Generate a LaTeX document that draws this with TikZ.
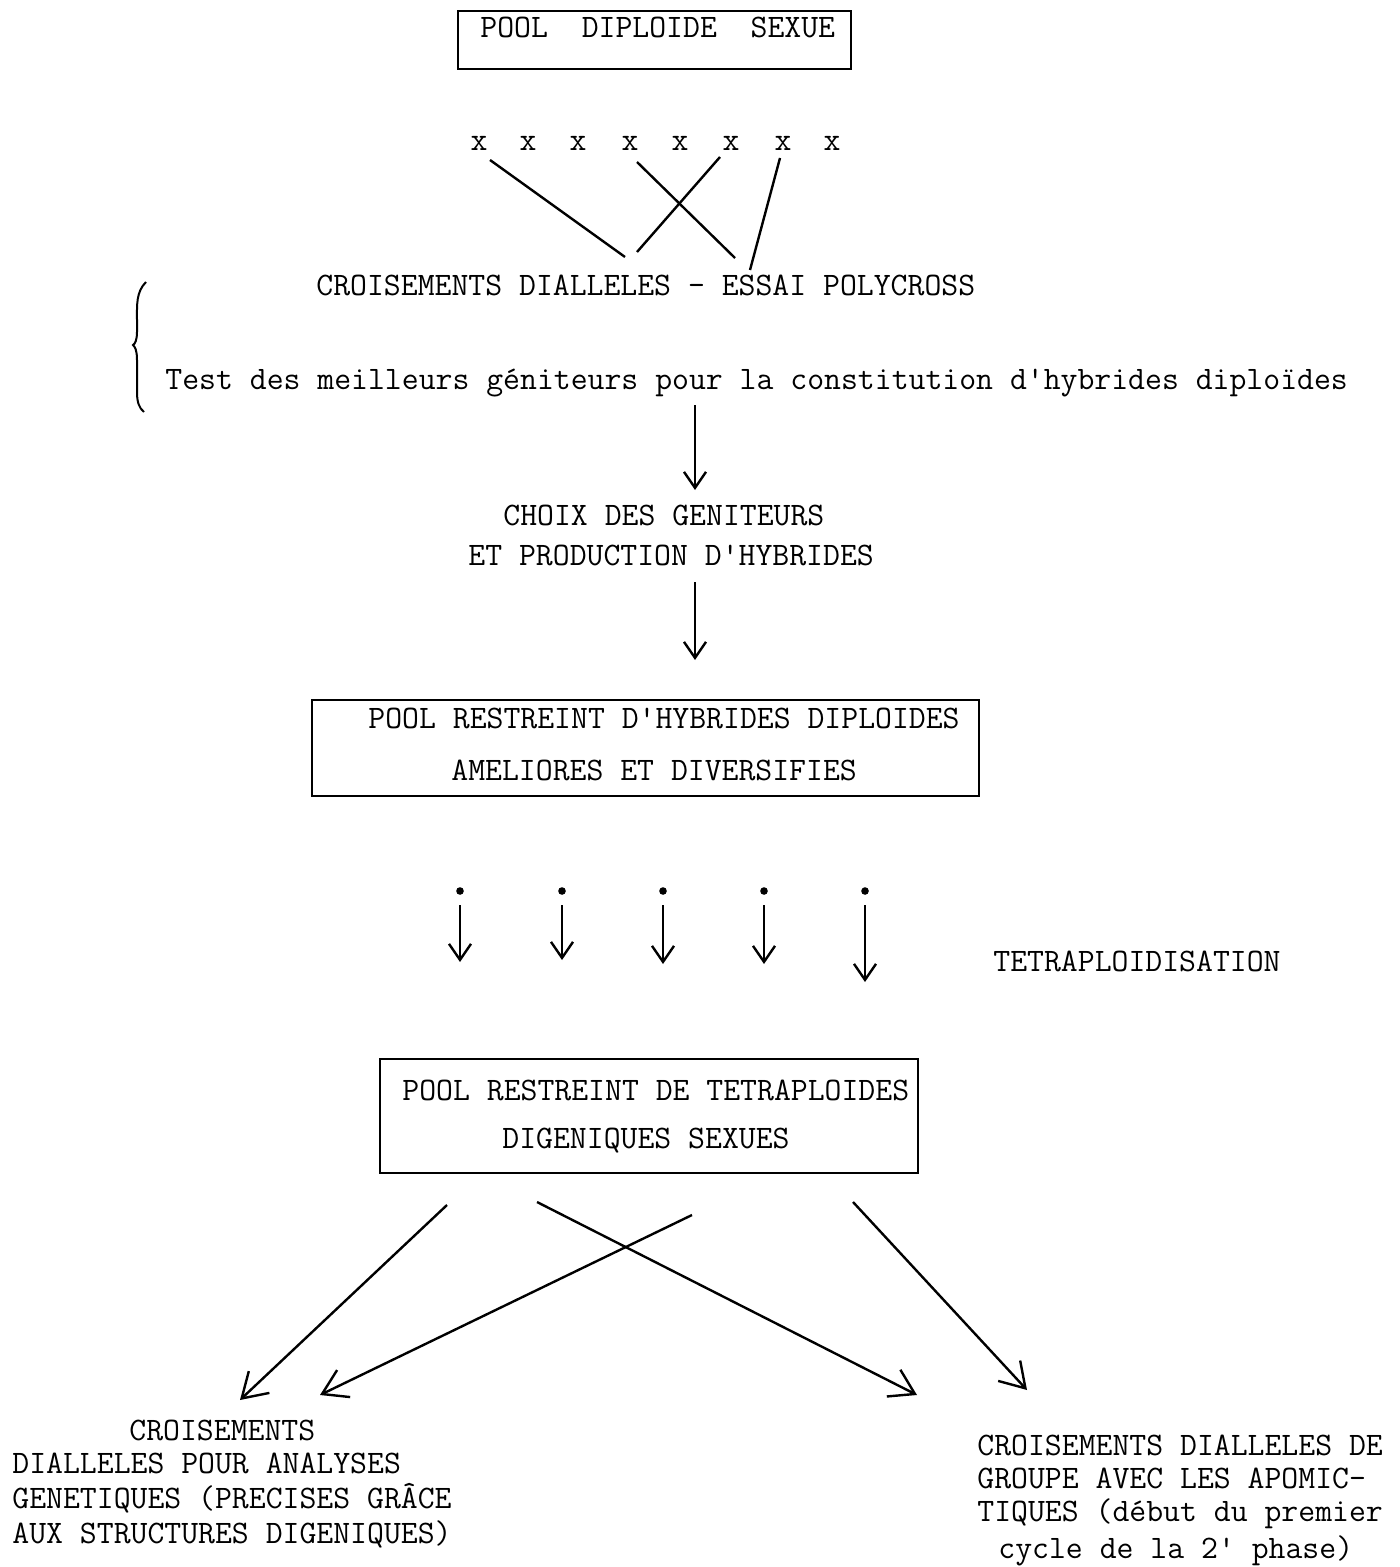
\documentclass[tikz,border=0pt]{standalone}
\usepackage{fontspec}
\setmonofont{Latin Modern Mono}
\usetikzlibrary{arrows.meta}
\begin{document}
\begin{tikzpicture}[x=0.5pt,y=-0.5pt,
  txt/.style={anchor=base west,inner sep=0pt,font=\ttfamily\fontsize{16.4}{19}\selectfont},
  cx/.style={anchor=base,inner sep=0pt,font=\ttfamily\fontsize{16.4}{19}\selectfont},
  frame/.style={draw,line width=1.1pt,inner sep=0pt,anchor=north west},
  ln/.style={line width=1.2pt},
  arr/.style={line width=1.2pt,-{Straight Barb[length=8pt,width=11pt,line width=1.2pt]}},
  barr/.style={line width=1.2pt,-{Straight Barb[length=12pt,width=15pt,line width=1.2pt]}},
  dot/.style={circle,fill,inner sep=0pt,minimum size=3.8pt}]
\useasboundingbox[fill=white] (0,0) rectangle (1399,1567);

% top box
\node[frame,minimum width=196.5pt,minimum height=29pt] (b1) at (457,10) {};
\node[txt] (t1) at (480,38) {POOL\ \ DIPLOIDE\ \ SEXUE};

% crosses
\foreach \i/\xx in {1/479,2/528,3/578,4/630,5/680,6/731,7/783,8/832}
  \node[cx] (x\i) at (\xx,151) {x};

\node[txt] (t2) at (316,296) {CROISEMENTS DIALLELES - ESSAI POLYCROSS};
\coordinate (c1a) at (490,160);
\coordinate (c1b) at (625,257);
\coordinate (c2a) at (720,157);
\coordinate (c2b) at (637,252);
\coordinate (c3a) at (637,162);
\coordinate (c3b) at (735,258);
\coordinate (c4a) at (780,158);
\coordinate (c4b) at (750,270);
\draw[ln] (c1a) -- (c1b);
\draw[ln] (c2a) -- (c2b);
\draw[ln] (c3a) -- (c3b);
\draw[ln] (c4a) -- (c4b);

% brace
\coordinate (br) at (133,345);
\draw[line width=1pt] (146,282) .. controls (136,292) and (137,305) .. (137,320)
  -- (137,332) .. controls (137,340) and (135,344) .. (br)
  .. controls (135,347) and (137,350) .. (137,360)
  -- (137,392) .. controls (137,402) and (139,408) .. (144,412);

\node[txt] (t3) at (165,389) {Test des meilleurs géniteurs pour la constitution d'hybrides diploïdes};

\coordinate (a1s) at (695,405);
\coordinate (a1e) at (695,490);
\draw[arr] (a1s) -- (a1e);

\node[txt] (t4a) at (503,525) {CHOIX DES GENITEURS};
\node[txt] (t4b) at (468,565) {ET PRODUCTION D'HYBRIDES};

\coordinate (a2s) at (695,582);
\coordinate (a2e) at (695,660);
\draw[arr] (a2s) -- (a2e);

% box 2
\node[frame,minimum width=333.5pt,minimum height=48pt] (b2) at (311,699) {};
\node[txt] (t5a) at (368,728) {POOL RESTREINT D'HYBRIDES DIPLOIDES};
\node[txt] (t5b) at (451,780) {AMELIORES ET DIVERSIFIES};

% dots and arrows
\foreach \i/\xx/\ye in {1/460/962,2/562/960,3/663/964,4/764/964,5/865/982}{
  \node[dot] (d\i) at (\xx,891) {};
  \coordinate (e\i) at (\xx,\ye);
  \draw[arr] (\xx,905) -- (e\i);
}
\node[txt] (t6) at (993,971) {TETRAPLOIDISATION};

% box 3
\node[frame,minimum width=269pt,minimum height=57pt] (b3) at (379,1058) {};
\node[txt] (t7a) at (402,1100) {POOL RESTREINT DE TETRAPLOIDES};
\node[txt] (t7b) at (502,1148) {DIGENIQUES SEXUES};

% bottom arrows
\coordinate (s1) at (447,1205);
\coordinate (f1) at (240,1400);
\coordinate (s2) at (692,1215);
\coordinate (f2) at (320,1395);
\coordinate (s3) at (537,1202);
\coordinate (f3) at (917,1395);
\coordinate (s4) at (853,1202);
\coordinate (f4) at (1027,1390);
\draw[barr] (s1) -- (f1);
\draw[barr] (s2) -- (f2);
\draw[barr] (s3) -- (f3);
\draw[barr] (s4) -- (f4);

% bottom left text
\node[txt] (l1) at (129,1440) {CROISEMENTS};
\node[txt] (l2) at (12,1473) {DIALLELES POUR ANALYSES};
\node[txt] (l3) at (12,1508) {GENETIQUES (PRECISES GRÂCE};
\node[txt] (l4) at (12,1543) {AUX STRUCTURES DIGENIQUES)};

% bottom right text
\node[txt] (r1) at (977,1455) {CROISEMENTS DIALLELES DE};
\node[txt] (r2) at (977,1488) {GROUPE AVEC LES APOMIC-};
\node[txt] (r3) at (977,1521) {TIQUES (début du premier};
\node[txt] (r4) at (998,1558) {cycle de la 2' phase)};
\end{tikzpicture}
\end{document}
